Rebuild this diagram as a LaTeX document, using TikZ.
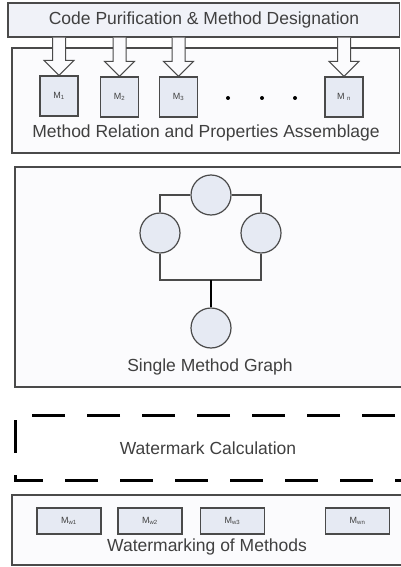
\documentclass[tikz,border=0pt]{standalone}
\usepackage{fontspec}
\setmainfont{Liberation Sans}
\usetikzlibrary{calc}
\definecolor{boxline}{HTML}{4A4A4A}
\definecolor{boxfill}{HTML}{E6EAF3}
\definecolor{panelfill}{HTML}{FBFBFD}
\definecolor{txt}{HTML}{404040}
\begin{document}
\begin{tikzpicture}[x=1pt,y=-1pt,
  panel/.style={draw=boxline,line width=1.2pt,fill=panelfill,inner sep=0pt},
  mbox/.style={draw=boxline,line width=1.2pt,fill=boxfill,inner sep=0pt,
    minimum width=38pt,minimum height=40pt,font=\fontsize{9}{10}\selectfont,text=txt},
  wbox/.style={draw=boxline,line width=1.2pt,fill=boxfill,inner sep=0pt,
    minimum width=64pt,minimum height=26pt,font=\fontsize{9}{10}\selectfont,text=txt},
  blob/.style={circle,draw=boxline,line width=1.2pt,fill=boxfill,minimum size=40pt,inner sep=0pt},
  label/.style={text=txt,font=\fontsize{17.5}{20}\selectfont,inner sep=0pt},
  blockarrow/.style={draw=boxline,line width=1pt,fill=panelfill,line join=miter}]
\useasboundingbox (0,0) rectangle (401,567);
\fill[white] (0,0) rectangle (401,567);

% code purification and method assembly
\node[panel,fill=boxfill!60,minimum width=391.5pt,minimum height=34pt] (code) at (203.75,20) {};
\node[label] (codetext) at (204,20) {Code Purification \& Method Designation};
\node[panel,minimum width=387.5pt,minimum height=105pt] (assem) at (205.75,100.5) {};

\node[mbox] (m1) at (59,96) {M\textsubscript{1}};
\node[mbox] (m2) at (119.5,97) {M\textsubscript{2}};
\node[mbox] (m3) at (178.5,97) {M\textsubscript{3}};
\node[mbox] (mn) at (344,97) {M \textsubscript{n}};

\foreach \m in {m1,m2,m3,mn}{
  \draw[blockarrow] ($(code.south -| \m)+(-6.5,0)$) -- ($(\m.north)+(-6.5,-15)$)
    -- ($(\m.north)+(-15,-15)$) -- (\m.north) -- ($(\m.north)+(15,-15)$)
    -- ($(\m.north)+(6.5,-15)$) -- ($(code.south -| \m)+(6.5,0)$);
}

\foreach \x [count=\i] in {228,262,295}
  \fill[black] (\x,98) circle (2) node[inner sep=0pt] (dot\i) {};

\node[label] (assemtext) at (206,133) {Method Relation and Properties Assemblage};

% single method graph
\node[panel,minimum width=388pt,minimum height=220pt] (graph) at (209,277) {};
\node[blob] (c2) at (211,195) {};
\node[blob] (c1) at (160,233) {};
\node[blob] (c3) at (261,233) {};
\node[blob] (c4) at (211,328) {};
\coordinate (j) at (211,280);

\draw[boxline,line width=1.2pt] (c2.west) -| (c1.north);
\draw[boxline,line width=1.2pt] (c2.east) -| (c3.north);
\draw[boxline,line width=1.2pt] (c1.south) |- (j) -| (c3.south);
\draw[black,line width=1.4pt] (j) -- (c4.north);

\node[label] (graphtext) at (210,367) {Single Method Graph};

% watermark calculation
\node[label] (calctext) at (208,448) {Watermark Calculation};
\draw[black,line width=3pt,dash pattern=on 33pt off 22pt,dash phase=30pt]
  (420,415) -- (15,415) -- (15,480) -- (420,480);

% watermarking of methods
\node[panel,minimum width=391pt,minimum height=70pt] (wm) at (207.5,530) {};
\node[wbox] (w1) at (69,521) {M\textsubscript{w1}};
\node[wbox] (w2) at (150,521) {M\textsubscript{w2}};
\node[wbox] (w3) at (232.5,521) {M\textsubscript{w3}};
\node[wbox] (wn) at (357.5,521) {M\textsubscript{wn}};
\node[label] (wmtext) at (207,547) {Watermarking of Methods};
\end{tikzpicture}
\end{document}
